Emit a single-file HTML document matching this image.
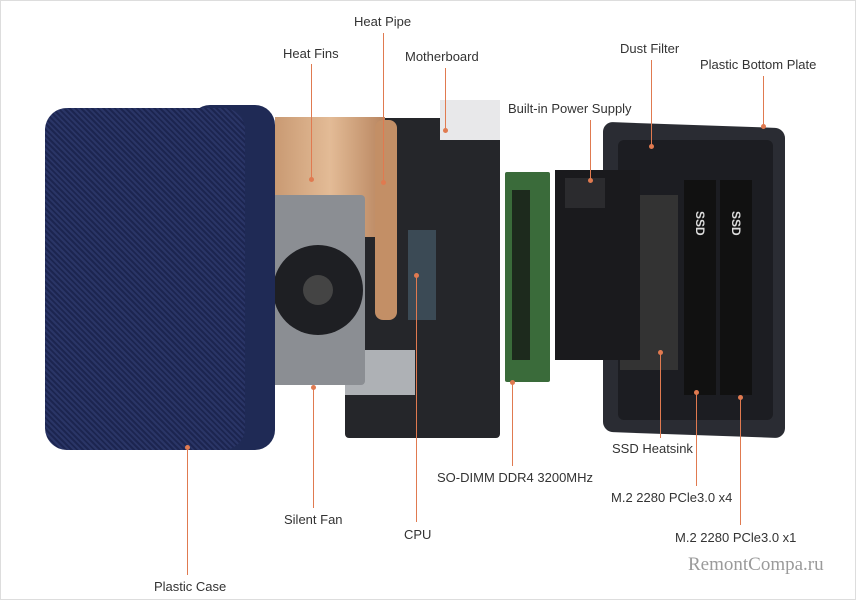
<!DOCTYPE html>
<html><head><meta charset="utf-8"><style>
body{margin:0;width:856px;height:600px;background:#fff;position:relative;overflow:hidden;font-family:"Liberation Sans",sans-serif;}
.frame{position:absolute;left:0;top:0;width:854px;height:598px;border:1px solid #ddd;}
.a{position:absolute;}
.t{position:absolute;font-size:13px;color:#333;white-space:nowrap;}
.l{position:absolute;width:1px;background:#e07a50;}
.d{position:absolute;width:5px;height:5px;border-radius:50%;background:#e07a50;margin-left:-2px;}
</style></head><body>
<div class="frame"></div>
<!-- bottom plate -->
<div class="a" style="left:603px;top:125px;width:182px;height:310px;background:#2a2c33;border-radius:10px;transform:skewY(2deg);"></div>
<div class="a" style="left:618px;top:140px;width:155px;height:280px;background:#1c1d22;border-radius:6px;"></div>
<div class="a" style="left:684px;top:180px;width:32px;height:215px;background:#111;"><div style="color:#ddd;font-size:12px;font-weight:bold;transform:rotate(90deg);margin-top:40px;">SSD</div></div>
<div class="a" style="left:720px;top:180px;width:32px;height:215px;background:#111;"><div style="color:#ddd;font-size:12px;font-weight:bold;transform:rotate(90deg);margin-top:40px;">SSD</div></div>
<div class="a" style="left:620px;top:195px;width:58px;height:175px;background:#333;"></div>
<!-- power supply -->
<div class="a" style="left:555px;top:170px;width:85px;height:190px;background:#1a1a1d;"></div>
<div class="a" style="left:565px;top:178px;width:40px;height:30px;background:#2b2b2e;"></div>
<!-- RAM -->
<div class="a" style="left:505px;top:172px;width:45px;height:210px;background:#3a6b3a;border-radius:2px;"></div>
<div class="a" style="left:512px;top:190px;width:18px;height:170px;background:#1d2a1d;"></div>
<!-- motherboard -->
<div class="a" style="left:345px;top:118px;width:155px;height:320px;background:#25262a;border-radius:4px;"></div>
<div class="a" style="left:408px;top:230px;width:28px;height:90px;background:#3b4a55;"></div>
<div class="a" style="left:440px;top:100px;width:60px;height:40px;background:#e8e8ea;"></div>
<div class="a" style="left:345px;top:350px;width:70px;height:45px;background:#aeb1b5;"></div>
<!-- heat fins -->
<div class="a" style="left:275px;top:117px;width:110px;height:120px;background:linear-gradient(90deg,#c99a73,#e3bb96,#b8855f);"></div>
<div class="a" style="left:375px;top:120px;width:22px;height:200px;background:#c38f66;border-radius:8px;"></div>
<!-- fan -->
<div class="a" style="left:265px;top:195px;width:100px;height:190px;background:#8b8e93;border-radius:4px;"></div>
<div class="a" style="left:273px;top:245px;width:90px;height:90px;background:#1e1f23;border-radius:50%;"></div>
<div class="a" style="left:303px;top:275px;width:30px;height:30px;background:#444;border-radius:50%;"></div>
<!-- case -->
<div class="a" style="left:190px;top:105px;width:85px;height:345px;background:#1f2a55;border-radius:20px;"></div>
<div class="a" style="left:45px;top:108px;width:200px;height:342px;background:repeating-linear-gradient(45deg,#2a3566 0 2px,#1c2550 2px 4px);border-radius:22px;"></div>
<!-- lines -->
<div class="l" style="left:383px;top:33px;height:150px"></div><div class="d" style="left:383px;top:180px"></div>
<div class="l" style="left:311px;top:64px;height:115px"></div><div class="d" style="left:311px;top:177px"></div>
<div class="l" style="left:445px;top:68px;height:62px"></div><div class="d" style="left:445px;top:128px"></div>
<div class="l" style="left:590px;top:120px;height:60px"></div><div class="d" style="left:590px;top:178px"></div>
<div class="l" style="left:651px;top:60px;height:86px"></div><div class="d" style="left:651px;top:144px"></div>
<div class="l" style="left:763px;top:76px;height:50px"></div><div class="d" style="left:763px;top:124px"></div>
<div class="l" style="left:660px;top:352px;height:86px"></div><div class="d" style="left:660px;top:350px"></div>
<div class="l" style="left:512px;top:382px;height:84px"></div><div class="d" style="left:512px;top:380px"></div>
<div class="l" style="left:696px;top:392px;height:94px"></div><div class="d" style="left:696px;top:390px"></div>
<div class="l" style="left:740px;top:397px;height:128px"></div><div class="d" style="left:740px;top:395px"></div>
<div class="l" style="left:313px;top:387px;height:121px"></div><div class="d" style="left:313px;top:385px"></div>
<div class="l" style="left:416px;top:275px;height:247px"></div><div class="d" style="left:416px;top:273px"></div>
<div class="l" style="left:187px;top:447px;height:128px"></div><div class="d" style="left:187px;top:445px"></div>
<!-- labels -->
<div class="t" style="left:354px;top:14px">Heat Pipe</div>
<div class="t" style="left:283px;top:46px">Heat Fins</div>
<div class="t" style="left:405px;top:49px">Motherboard</div>
<div class="t" style="left:508px;top:101px">Built-in Power Supply</div>
<div class="t" style="left:620px;top:41px">Dust Filter</div>
<div class="t" style="left:700px;top:57px">Plastic Bottom Plate</div>
<div class="t" style="left:612px;top:441px">SSD Heatsink</div>
<div class="t" style="left:437px;top:470px">SO-DIMM DDR4 3200MHz</div>
<div class="t" style="left:611px;top:490px">M.2 2280 PCle3.0 x4</div>
<div class="t" style="left:675px;top:530px">M.2 2280 PCle3.0 x1</div>
<div class="t" style="left:284px;top:512px">Silent Fan</div>
<div class="t" style="left:404px;top:527px">CPU</div>
<div class="t" style="left:154px;top:579px">Plastic Case</div>
<div class="t" style="left:688px;top:554px;font-family:'Liberation Serif',serif;font-size:19px;color:#9a9a9a">RemontCompa.ru</div>
</body></html>
